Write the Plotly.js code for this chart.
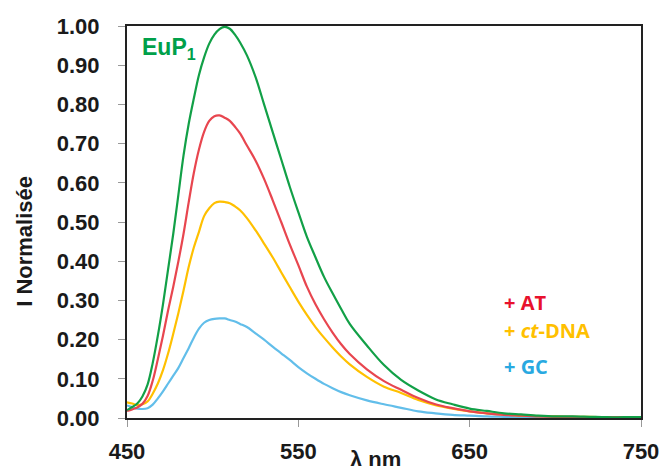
<!DOCTYPE html>
<html>
<head>
<meta charset="utf-8">
<script src="https://cdn.plot.ly/plotly-3.0.1.min.js"></script>
<style>html,body{margin:0;padding:0;background:#fff;}#chart{width:662px;height:466px;}</style>
</head>
<body>
<div id="chart"></div>
<script>
// Wavelength (nm)
const wavelength = [450,453,456,459,462,465,468,471,474,477,480,483,486,489,492,495,498,501,504,507,510,513,516,
  520,525,530,535,540,545,550,555,560,565,570,575,580,
  590,600,610,620,630,640,650,660,670,680,690,700,710,720,730,740,750];

// EuP1 alone (green)
const eup1 = [0.020,0.028,0.037,0.055,0.085,0.140,0.210,0.290,0.380,0.470,0.570,0.670,0.750,0.815,0.875,0.920,0.955,0.978,0.992,0.998,0.993,0.978,0.958,
  0.925,0.870,0.800,0.730,0.660,0.590,0.525,0.462,0.410,0.360,0.318,0.278,0.240,
  0.185,0.135,0.097,0.070,0.048,0.035,0.024,0.018,0.012,0.009,0.006,0.004,0.004,0.003,0.002,0.002,0.002];

// + AT (red)
const withAT = [0.018,0.022,0.027,0.036,0.056,0.095,0.150,0.210,0.275,0.335,0.400,0.470,0.550,0.625,0.685,0.730,0.758,0.770,0.772,0.766,0.758,0.743,0.726,
  0.695,0.657,0.610,0.556,0.500,0.443,0.390,0.335,0.290,0.252,0.218,0.188,0.163,
  0.124,0.094,0.072,0.051,0.035,0.025,0.017,0.012,0.008,0.006,0.004,0.003,0.003,0.002,0.002,0.002,0.002];

// + ct-DNA (yellow)
const withCtDNA = [0.040,0.037,0.033,0.035,0.042,0.062,0.088,0.122,0.165,0.215,0.268,0.325,0.385,0.435,0.475,0.515,0.535,0.548,0.552,0.551,0.548,0.540,0.530,
  0.510,0.479,0.445,0.410,0.372,0.334,0.297,0.263,0.232,0.205,0.180,0.157,0.137,
  0.105,0.080,0.064,0.046,0.033,0.024,0.017,0.012,0.009,0.006,0.005,0.004,0.003,0.003,0.002,0.002,0.002];

// + GC (blue)
const withGC = [0.032,0.028,0.024,0.023,0.025,0.034,0.050,0.068,0.088,0.108,0.128,0.153,0.178,0.205,0.228,0.243,0.250,0.253,0.254,0.254,0.250,0.246,0.240,
  0.232,0.216,0.200,0.182,0.165,0.148,0.130,0.114,0.100,0.087,0.076,0.066,0.058,
  0.045,0.035,0.026,0.017,0.012,0.008,0.006,0.004,0.003,0.002,0.002,0.002,0.002,0.002,0.002,0.002,0.002];

const xTicks = [450,550,650,750];
const yTicks = [0,0.1,0.2,0.3,0.4,0.5,0.6,0.7,0.8,0.9,1.0];
const yTickText = ["0.00","0.10","0.20","0.30","0.40","0.50","0.60","0.70","0.80","0.90","1.00"];

const mk = (y, color, name) => ({
  x: wavelength, y: y, type: 'scatter', mode: 'lines', name: name,
  line: {color: color, width: 2.2, shape: 'spline', smoothing: 1},
  hoverinfo: 'skip'
});

const data = [
  mk(withGC, '#62BEEA', '+ GC'),
  mk(withCtDNA, '#FFC000', '+ ct-DNA'),
  mk(withAT, '#E8464F', '+ AT'),
  mk(eup1, '#12A047', 'EuP1')
];

const tickFont = {family: 'Liberation Sans, Arial, sans-serif', size: 22, color: '#1a1a1a', weight: 'bold'};
const legFont = (c) => ({family: 'Open Sans, sans-serif', size: 20, color: c, weight: 'bold'});

const layout = {
  width: 662, height: 466,
  margin: {l: 127, r: 21, t: 26, b: 48},
  paper_bgcolor: '#fff', plot_bgcolor: '#fff',
  showlegend: false,
  xaxis: {
    range: [450, 750], tickvals: xTicks, ticktext: xTicks.map(String),
    ticks: 'outside', ticklen: 7, tickwidth: 1, tickcolor: '#999',
    showline: true, linecolor: '#222', linewidth: 2, mirror: true,
    showgrid: false, zeroline: false, tickfont: tickFont, ticklabelstandoff: 6
  },
  yaxis: {
    range: [0, 1.0], tickvals: yTicks, ticktext: yTickText,
    ticks: 'outside', ticklen: 7, tickwidth: 1, tickcolor: '#999',
    showline: true, linecolor: '#222', linewidth: 2, mirror: true,
    showgrid: false, zeroline: false, tickfont: tickFont, ticklabelstandoff: 14
  },
  annotations: [
    {xref: 'paper', yref: 'paper', x: -0.2, y: 0.45, text: 'I Normalisée', textangle: -90,
     showarrow: false, xanchor: 'center', yanchor: 'middle',
     font: {family: 'Liberation Sans, Arial, sans-serif', size: 22, color: '#1a1a1a', weight: 'bold'}},
    {xref: 'paper', yref: 'paper', x: 0.484, y: -0.07, text: 'λ nm',
     showarrow: false, xanchor: 'center', yanchor: 'top',
     font: {family: 'Liberation Sans, Arial, sans-serif', size: 22, color: '#1a1a1a', weight: 'bold'}},
    {xref: 'paper', yref: 'paper', x: 0.025, y: 0.985, text: 'EuP<sub>1</sub>',
     showarrow: false, xanchor: 'left', yanchor: 'top',
     font: {family: 'Liberation Sans, Arial, sans-serif', size: 23, color: '#00A04A', weight: 'bold'}},
    {xref: 'paper', yref: 'paper', x: 0.73, y: 0.295, text: '+ AT',
     showarrow: false, xanchor: 'left', yanchor: 'middle', font: legFont('#E8112D')},
    {xref: 'paper', yref: 'paper', x: 0.73, y: 0.2235, text: '+ <i>ct</i>-DNA',
     showarrow: false, xanchor: 'left', yanchor: 'middle', font: legFont('#FFC000')},
    {xref: 'paper', yref: 'paper', x: 0.73, y: 0.1315, text: '+ GC',
     showarrow: false, xanchor: 'left', yanchor: 'middle', font: legFont('#29A9E1')}
  ]
};

Plotly.newPlot('chart', data, layout, {displayModeBar: false, staticPlot: true});
</script>
</body>
</html>
